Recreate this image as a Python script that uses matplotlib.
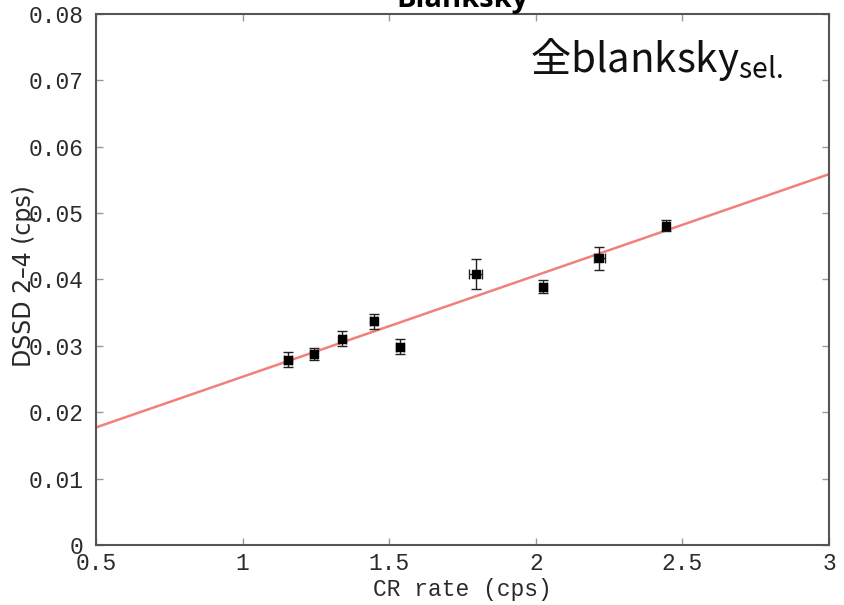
import matplotlib
matplotlib.use("Agg")
import matplotlib.pyplot as plt
import numpy as np

# Measurements: cosmic-ray rate vs DSSD 2-4 keV count rate
cr_rate = [1.155, 1.242, 1.340, 1.447, 1.537, 1.795, 2.025, 2.216, 2.443]
cr_err = [0.012, 0.012, 0.012, 0.012, 0.012, 0.023, 0.012, 0.019, 0.010]
dssd_rate = [0.0279, 0.0288, 0.0311, 0.0337, 0.0299, 0.0408, 0.0389, 0.0432, 0.0481]
dssd_err = [0.0011, 0.0009, 0.0011, 0.0011, 0.0012, 0.0023, 0.0010, 0.0017, 0.0008]

# Linear fit parameters
fit_intercept = 0.01008
fit_slope = 0.01526

x_ticks = [0.5, 1, 1.5, 2, 2.5, 3]
x_ticklabels = ["0.5", "1", "1.5", "2", "2.5", "3"]
y_ticks = [0, 0.01, 0.02, 0.03, 0.04, 0.05, 0.06, 0.07, 0.08]
y_ticklabels = ["0", "0.01", "0.02", "0.03", "0.04", "0.05", "0.06", "0.07", "0.08"]

mono = "Liberation Mono"
ink = "#2a2a2a"

fig = plt.figure(figsize=(8.44, 6.05), dpi=100)
ax = fig.add_axes([0.1137, 0.0992, 0.9822 - 0.1137, 0.9769 - 0.0992])

xf = np.array([0.5, 3.0])
ax.plot(xf, fit_intercept + fit_slope * xf, color="#f2807a", lw=1.8, zorder=2)

ax.errorbar(cr_rate, dssd_rate, xerr=cr_err, yerr=dssd_err, fmt="s",
            color="black", ms=5.5, elinewidth=1.0, capsize=3.5, capthick=1.0,
            ecolor="#222222", zorder=3)

ax.set_xlim(0.5, 3)
ax.set_ylim(0, 0.08)
ax.set_xticks(x_ticks)
ax.set_xticklabels(x_ticklabels, fontfamily=mono, fontsize=16.5, color=ink)
ax.set_yticks(y_ticks)
ax.set_yticklabels(y_ticklabels, fontfamily=mono, fontsize=16.5, color=ink)
ax.tick_params(direction="in", length=5, width=1, color="#999999",
               top=True, right=True)
ax.tick_params(axis="x", pad=5)
ax.tick_params(axis="y", pad=9)

for s in ax.spines.values():
    s.set_color("#555555")
    s.set_linewidth(1.5)

ax.set_xlabel("CR rate (cps)", fontfamily=mono, fontsize=16.5, color=ink,
              labelpad=2)
ax.set_ylabel("DSSD 2–4 (cps)", fontfamily="DejaVu Sans", fontsize=17,
              color=ink)
ax.yaxis.set_label_coords(-0.082, 0.506)

ax.text(0.592, 0.914, "全blanksky$_{\\mathregular{sel.}}$",
        transform=ax.transAxes, fontsize=29,
        family=["Noto Sans CJK JP", "DejaVu Sans"], color="#111111",
        ha="left", va="center")

fig.text(0.548, 0.9884, "Blanksky", fontsize=21, fontweight="bold",
         family=["Open Sans", "DejaVu Sans"], ha="center", va="baseline")

fig.savefig("out.png", dpi=100)
